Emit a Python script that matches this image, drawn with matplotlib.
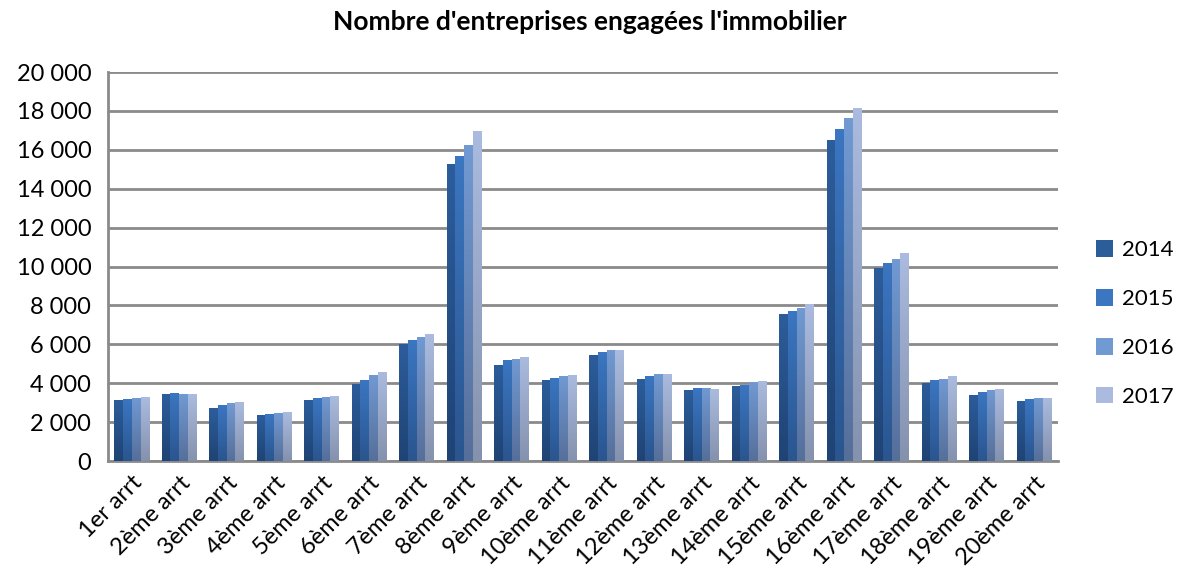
import matplotlib
matplotlib.use("Agg")
import matplotlib.pyplot as plt
import numpy as np
from matplotlib.ticker import FuncFormatter
from matplotlib.colors import LinearSegmentedColormap

categories = ["1er arrt", "2ème arrt", "3ème arrt", "4ème arrt", "5ème arrt",
              "6ème arrt", "7ème arrt", "8ème arrt", "9ème arrt", "10ème arrt",
              "11ème arrt", "12ème arrt", "13ème arrt", "14ème arrt", "15ème arrt",
              "16ème arrt", "17ème arrt", "18ème arrt", "19ème arrt", "20ème arrt"]
years = ["2014", "2015", "2016", "2017"]

v2014 = [3130, 3440, 2710, 2350, 3130, 3970, 6000, 15270, 4960, 4170,
         5430, 4230, 3650, 3860, 7550, 16500, 9930, 4030, 3410, 3100]
v2015 = [3180, 3500, 2870, 2400, 3240, 4170, 6210, 15680, 5170, 4280,
         5580, 4380, 3760, 3910, 7710, 17060, 10190, 4140, 3570, 3210]
v2016 = [3240, 3440, 2970, 2450, 3290, 4430, 6370, 16240, 5270, 4380,
         5690, 4490, 3760, 4070, 7860, 17630, 10400, 4240, 3670, 3260]
v2017 = [3290, 3440, 3030, 2500, 3340, 4590, 6520, 16960, 5370, 4430,
         5690, 4490, 3700, 4120, 8070, 18140, 10710, 4350, 3720, 3260]
series = [v2014, v2015, v2016, v2017]

# top colour, bottom colour for each year (vertical gradient like the original)
top_cols = ["#2c5d9b", "#3b76c1", "#7199d2", "#aabbdf"]
bot_cols = ["#1f4374", "#2a558f", "#566f9a", "#8592ae"]

plt.rcParams['font.family'] = ['Lato', 'DejaVu Sans']

fig = plt.figure(figsize=(11.8, 5.78), dpi=100)
ax = fig.add_axes([0.0915, 0.2024, 0.805, 0.673])

x = np.arange(len(categories))
w = 0.185
for k, vals in enumerate(series):
    pos = x + (k - 1.5) * w
    bars = ax.bar(pos, vals, width=w, color=top_cols[k], label=years[k], zorder=3)
    cmap = LinearSegmentedColormap.from_list("g%d" % k, [bot_cols[k], top_cols[k]])
    grad = np.linspace(0, 1, 64).reshape(-1, 1)
    for b in bars:
        x0, y0 = b.get_x(), b.get_y()
        im = ax.imshow(grad, cmap=cmap, origin="lower", aspect="auto",
                       extent=[x0, x0 + b.get_width(), y0, y0 + b.get_height()],
                       zorder=3.1)
        im.set_clip_path(b)

ax.set_xlim(-0.5, len(categories) - 0.5)
ax.set_ylim(0, 20000)
ax.set_yticks(np.arange(0, 20001, 2000))
ax.yaxis.set_major_formatter(FuncFormatter(lambda v, p: "{:,.0f}".format(v).replace(",", " ")))
ax.yaxis.grid(True, color="#8a8a8a", linewidth=2, zorder=0)
ax.set_axisbelow(True)

ax.set_xticks(x)
ax.set_xticklabels(categories, rotation=45, ha="right", rotation_mode="anchor")
ax.tick_params(axis="both", labelsize=17, length=0, pad=8)
ax.tick_params(axis="y", pad=12)

for s in ["top", "right"]:
    ax.spines[s].set_visible(False)
for s in ["left", "bottom"]:
    ax.spines[s].set_color("#8a8a8a")
    ax.spines[s].set_linewidth(2)

fig.text(0.5, 0.962, "Nombre d'entreprises engagées l'immobilier", ha="center", va="center",
         fontsize=19, fontweight="bold")

leg = ax.legend(loc="center left", bbox_to_anchor=(0.929, 0.44), bbox_transform=fig.transFigure,
                frameon=False, fontsize=16, labelspacing=1.3, handlelength=0.75,
                handleheight=0.75, handletextpad=0.4, borderpad=0, borderaxespad=0)

fig.savefig("out.png", dpi=100)
